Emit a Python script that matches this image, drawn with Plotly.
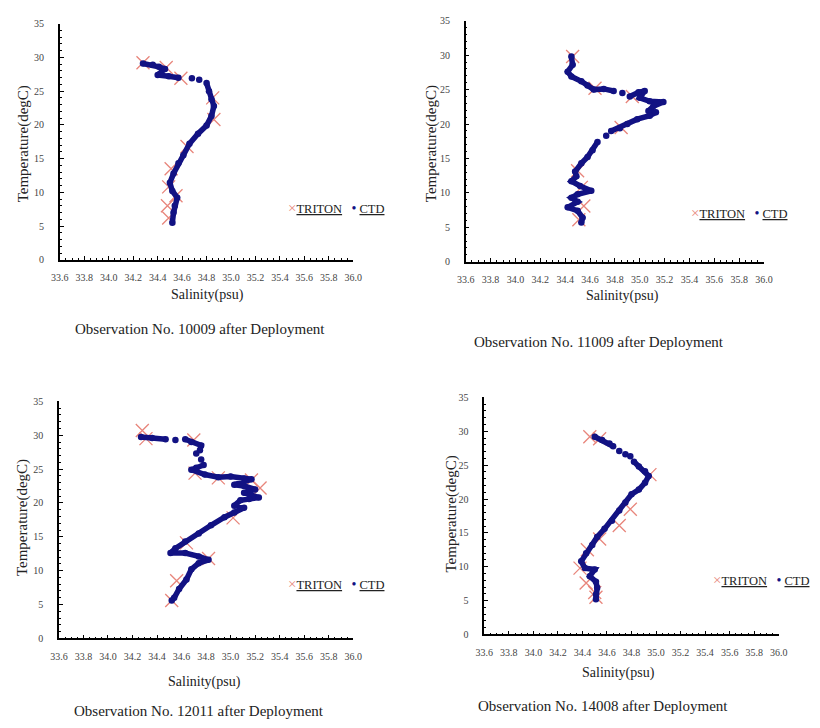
import plotly.graph_objects as go

# ---------------- data: salinity (psu) / temperature (degC) profiles ----------------
# Observation No. 10009
ctd_10009_sal = [34.28, 34.36, 34.41, 34.46, 34.40, 34.49, 34.57, None, 34.68, None, 34.74, None,
                 34.80, 34.82, 34.84, 34.86, 34.84, 34.80, 34.73, 34.66, 34.61, 34.57, 34.53,
                 34.50, 34.52, 34.56, 34.54, 34.53, 34.52]
ctd_10009_tmp = [29.1, 28.9, 28.6, 28.3, 27.4, 27.2, 27.0, None, 26.9, None, 26.7, None,
                 26.2, 25.0, 23.8, 22.8, 21.3, 19.9, 18.7, 17.2, 15.5, 14.3, 12.8,
                 11.4, 10.2, 9.2, 8.0, 7.0, 5.5]
tri_10009_sal = [34.28, 34.47, 34.59, 34.85, 34.86, 34.64, 34.51, 34.49, 34.55, 34.48, 34.49]
tri_10009_tmp = [29.2, 28.5, 26.9, 24.0, 20.8, 16.8, 13.5, 10.8, 9.5, 8.0, 6.2]

# Observation No. 11009
ctd_11009_sal = [34.45, 34.46, 34.42, 34.45, 34.53, 34.58, 34.63, 34.71, 34.79, None, 34.86, None,
                 34.92, 34.99, 35.04, 35.00, 35.08, 35.19, 35.11, 35.07, 35.13, 35.08, 34.98,
                 34.90, 34.84, 34.77, None, 34.73, None, 34.66, 34.62, 34.58, 34.53, 34.48,
                 34.49, 34.45, 34.52, 34.61, 34.50, 34.45, 34.50, 34.42, 34.50, 34.54, 34.53]
ctd_11009_tmp = [29.8, 28.6, 27.6, 26.9, 26.2, 25.6, 25.0, 25.1, 24.8, None, 24.5, None,
                 24.0, 24.6, 24.8, 23.8, 23.3, 23.2, 22.6, 21.9, 21.7, 21.2, 20.7,
                 20.0, 19.4, 19.0, None, 18.3, None, 17.4, 16.2, 15.2, 14.3, 13.1,
                 12.4, 11.7, 11.0, 10.3, 9.8, 9.3, 8.7, 7.9, 7.4, 6.4, 5.7]
tri_11009_sal = [34.46, 34.64, 34.94, 34.85, 34.50, 34.53, 34.55, 34.51]
tri_11009_tmp = [29.8, 25.2, 24.0, 19.5, 13.2, 10.8, 8.1, 6.1]

# Observation No. 12011
ctd_12011_sal = [34.27, 34.36, 34.47, None, 34.55, None, 34.63, 34.68, 34.76, 34.75, None, 34.72, None,
                 34.76, None, 34.78, 34.72, 34.68, 34.79, 34.90, 35.00, 35.11, 35.17, 35.03,
                 35.11, 35.20, 35.11, 35.23, 35.15, 35.08, 35.03, 35.11, 35.03, 34.95, 34.84,
                 34.74, 34.63, 34.55, 34.51, 34.63, 34.74, 34.82, 34.74, 34.68, 34.64, 34.58,
                 34.54, 34.52]
ctd_12011_tmp = [29.75, 29.6, 29.4, None, 29.3, None, 29.4, 29.0, 28.5, 27.8, None, 27.3, None,
                 26.4, None, 25.6, 25.2, 24.9, 24.2, 23.8, 23.9, 23.6, 23.5, 22.7,
                 22.5, 22.0, 21.5, 20.8, 20.6, 20.4, 19.6, 19.3, 18.6, 17.9, 16.7,
                 15.5, 14.3, 13.3, 12.6, 12.6, 12.1, 11.6, 11.1, 10.2, 8.7, 7.3,
                 6.0, 5.6]
tri_12011_sal = [34.28, 34.31, 34.70, 34.71, 34.90, 35.17, 35.24, 35.02, 34.64, 34.82, 34.56, 34.52]
tri_12011_tmp = [30.7, 29.5, 29.3, 24.4, 23.7, 23.4, 22.2, 17.8, 14.1, 11.8, 8.5, 5.6]

# Observation No. 14008
ctd_14008_sal = [34.50, 34.56, 34.62, 34.65, None, 34.70, None, 34.75, None, 34.79, None,
                 34.82, 34.86, 34.91, 34.94, 34.91, 34.86, 34.80, 34.75, 34.70, 34.64,
                 34.58, 34.52, 34.48, 34.43, 34.39, 34.42, 34.50, 34.46, 34.51, 34.52,
                 34.51, 34.51]
ctd_14008_tmp = [29.2, 28.7, 28.2, 27.8, None, 27.1, None, 26.6, None, 26.3, None,
                 25.5, 24.8, 24.1, 23.4, 22.4, 21.4, 20.7, 19.5, 18.3, 16.8,
                 15.6, 14.4, 13.2, 12.0, 10.8, 9.8, 9.6, 8.6, 7.8, 6.9,
                 5.9, 5.2]
tri_14008_sal = [34.46, 34.54, 34.95, 34.79, 34.70, 34.54, 34.44, 34.38, 34.43, 34.50, 34.51]
tri_14008_tmp = [29.2, 28.9, 23.6, 18.5, 16.1, 14.1, 12.5, 9.8, 7.6, 6.2, 5.5]

captions = ["Observation No. 10009 after Deployment",
            "Observation No. 11009 after Deployment",
            "Observation No. 12011 after Deployment",
            "Observation No. 14008 after Deployment"]

# ---------------- layout geometry (pixels in an 820 x 728 page) ----------------
W, H = 820, 728
FONT = "Liberation Serif"
CTD_COLOR = "#121283"
TRI_COLOR = "#e8867c"

# plot boxes: (left, right, bottom, top) in pixels
boxes = [(52, 352, 258, 18), (467, 772, 260, 15), (51, 352, 643, 402), (486, 787, 639, 398)]
# y-title x, y-title y, x-title x, x-title y, caption x, caption y, legend left x, legend y
labels = [(15, 140, 203, 294, 195, 328, 283, 205),
          (432, 140, 627, 295, 603, 342, 695, 210),
          (14, 520, 200, 687, 194, 717, 283, 588),
          (452, 517, 623, 678, 607, 712, 718, 584)]

panels = [(ctd_10009_sal, ctd_10009_tmp, tri_10009_sal, tri_10009_tmp),
          (ctd_11009_sal, ctd_11009_tmp, tri_11009_sal, tri_11009_tmp),
          (ctd_12011_sal, ctd_12011_tmp, tri_12011_sal, tri_12011_tmp),
          (ctd_14008_sal, ctd_14008_tmp, tri_14008_sal, tri_14008_tmp)]

fig = go.Figure()
annotations = []

def px(x):
    return x / W

def py(y):
    return 1 - y / H

def label(x, y, text, size, anchor="center", angle=0):
    return dict(x=px(x), y=py(y), xref="paper", yref="paper", text=text,
                xanchor=anchor, yanchor="middle", textangle=angle, showarrow=False,
                font=dict(family=FONT, size=size, color="#222222"))

legend_text = (f'<span style="color:{TRI_COLOR};font-size:15px">×</span><u>TRITON</u>'
               f'&nbsp;&nbsp;&nbsp;<span style="color:{CTD_COLOR};font-size:14px">•</span>&nbsp;<u>CTD</u>')

for i, (cs, ct, ts, tt) in enumerate(panels):
    n = "" if i == 0 else str(i + 1)
    xa, ya = "x" + n, "y" + n
    fig.add_trace(go.Scatter(x=ts, y=tt, xaxis=xa, yaxis=ya, mode="markers", name="TRITON",
                             marker=dict(symbol="x-thin", size=13, line=dict(width=1.3, color=TRI_COLOR)),
                             showlegend=False))
    fig.add_trace(go.Scatter(x=cs, y=ct, xaxis=xa, yaxis=ya, mode="lines+markers", name="CTD",
                             line=dict(color=CTD_COLOR, width=5.5), connectgaps=False,
                             marker=dict(symbol="circle", size=6.5, color=CTD_COLOR),
                             showlegend=False))

    l, r, b, t = boxes[i]
    axis_common = dict(showline=True, linecolor="black", linewidth=1.5, showgrid=False,
                       zeroline=False, ticks="inside", tickcolor="black", tickwidth=1,
                       tickfont=dict(family=FONT, size=10, color="#444444"), fixedrange=True)
    fig.update_layout(**{
        "xaxis" + n: dict(domain=[px(l), px(r)], range=[33.6, 36.0], anchor=ya,
                          tick0=33.6, dtick=0.2, tickformat=".1f", ticklen=4,
                          ticklabelstandoff=8,
                          minor=dict(dtick=0.05, ticks="inside", ticklen=2, tickcolor="black"),
                          **axis_common),
        "yaxis" + n: dict(domain=[py(b), py(t)], range=[0, 35], anchor=xa,
                          tick0=0, dtick=5, ticklen=4, ticklabelstandoff=12,
                          minor=dict(dtick=1, ticks="inside", ticklen=2, tickcolor="black"),
                          **axis_common),
    })

    yx, yy, xx, xy, cx, cy, lx, ly = labels[i]
    annotations.append(label(yx, yy, "Temperature(degC)", 15, angle=-90))
    annotations.append(label(xx, xy, "Salinity(psu)", 14))
    annotations.append(label(cx, cy, captions[i], 15))
    annotations.append(label(lx, ly, legend_text, 12.5, anchor="left"))

fig.update_layout(width=W, height=H, margin=dict(l=0, r=0, t=0, b=0),
                  paper_bgcolor="white", plot_bgcolor="white",
                  annotations=annotations, showlegend=False)

fig.write_html("out.html")
